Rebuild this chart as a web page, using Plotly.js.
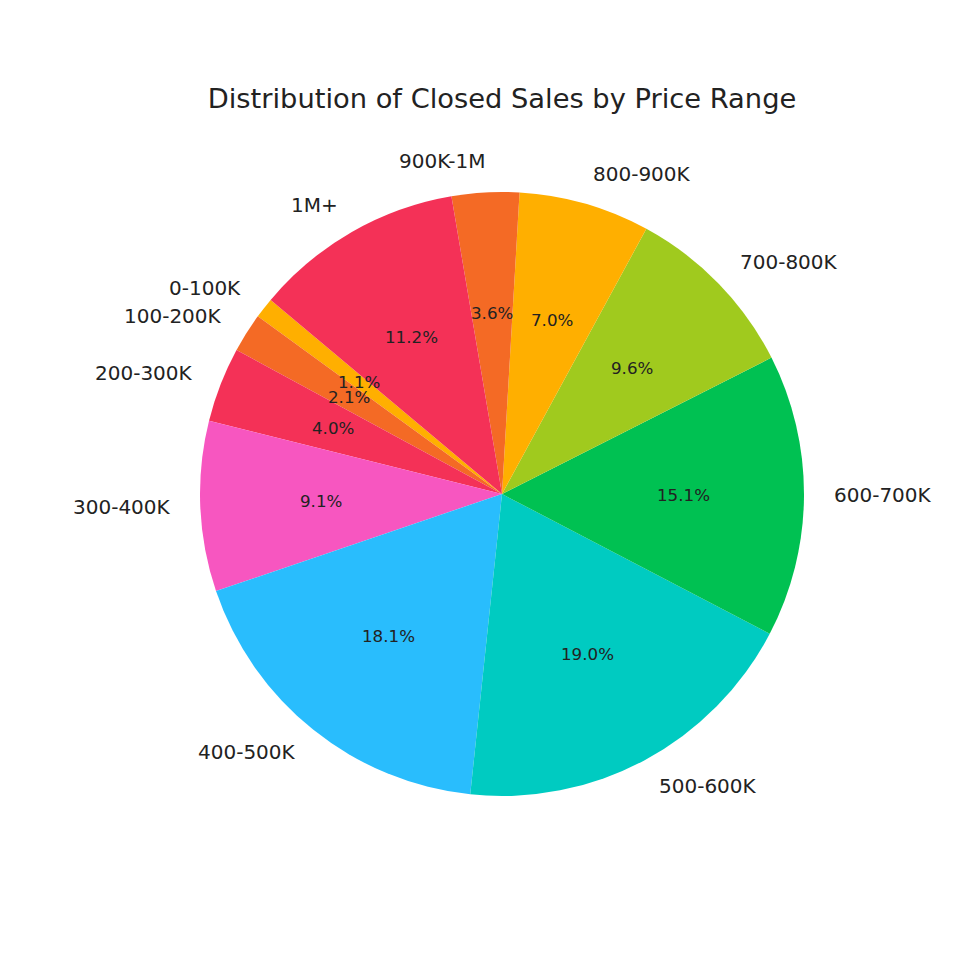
<!DOCTYPE html>
<html>
<head>
<meta charset="utf-8">
<script src="https://cdn.plot.ly/plotly-3.0.1.min.js"></script>
<style>html,body{margin:0;padding:0;background:#fff;}#chart{width:980px;height:980px;}</style>
</head>
<body>
<div id="chart"></div>
<script>
var categories = ["0-100K","100-200K","200-300K","300-400K","400-500K","500-600K","600-700K","700-800K","800-900K","900K-1M","1M+"];
var shares = [1.1, 2.1, 4.0, 9.1, 18.1, 19.0, 15.1, 9.6, 7.0, 3.6, 11.2];
var colors = ["#FFAF00","#F46A25","#F43157","#F756C0","#29BDFD","#00CBC1","#00C152","#A0CA1E","#FFAF00","#F46A25","#F43157"];

var W = 980, H = 980;
var cxPx = 502, cyPx = 494, R = 302;
var startAngle = 140; // degrees, counterclockwise from 3 o'clock

var total = shares.reduce(function(a,b){return a+b;},0);
var annotations = [];
var cum = 0;
for (var i = 0; i < shares.length; i++) {
  var mid = startAngle + 360 * (cum + shares[i]/2) / total;
  cum += shares[i];
  var t = mid * Math.PI / 180;
  var lx = cxPx + 1.1 * R * Math.cos(t), ly = cyPx - 1.1 * R * Math.sin(t);
  var px = cxPx + 0.6 * R * Math.cos(t), py = cyPx - 0.6 * R * Math.sin(t);
  var right = Math.cos(t) > 0;
  annotations.push({
    x: lx / W, y: 1 - ly / H, xref: 'paper', yref: 'paper',
    text: categories[i], showarrow: false,
    xanchor: right ? 'left' : 'right', yanchor: 'middle',
    xshift: right ? -2 : 3, yshift: 1,
    font: {family: 'DejaVu Sans', size: 20, color: '#222222'}
  });
  annotations.push({
    x: px / W, y: 1 - py / H, xref: 'paper', yref: 'paper',
    text: (100 * shares[i] / total).toFixed(1) + '%', showarrow: false,
    xanchor: 'center', yanchor: 'middle',
    font: {family: 'DejaVu Sans', size: 16.7, color: '#222222'}
  });
}

var data = [{
  type: 'pie',
  labels: categories,
  values: shares,
  marker: {colors: colors, line: {width: 0}},
  sort: false,
  direction: 'counterclockwise',
  rotation: -(startAngle - 90) - 360 * shares[0] / total,
  textinfo: 'none',
  hoverinfo: 'label+percent',
  showlegend: false,
  domain: {x: [(cxPx - R)/W, (cxPx + R)/W], y: [1 - (cyPx + R)/H, 1 - (cyPx - R)/H]}
}];

var layout = {
  width: W, height: H,
  margin: {l: 0, r: 0, t: 0, b: 0},
  paper_bgcolor: '#ffffff',
  title: {text: 'Distribution of Closed Sales by Price Range', x: 502/W, xanchor: 'center', y: 1 - 98/H, yanchor: 'middle',
          font: {family: 'DejaVu Sans', size: 27.3, color: '#222222'}},
  annotations: annotations,
  showlegend: false
};

Plotly.newPlot('chart', data, layout, {displayModeBar: false, staticPlot: true});
</script>
</body>
</html>
